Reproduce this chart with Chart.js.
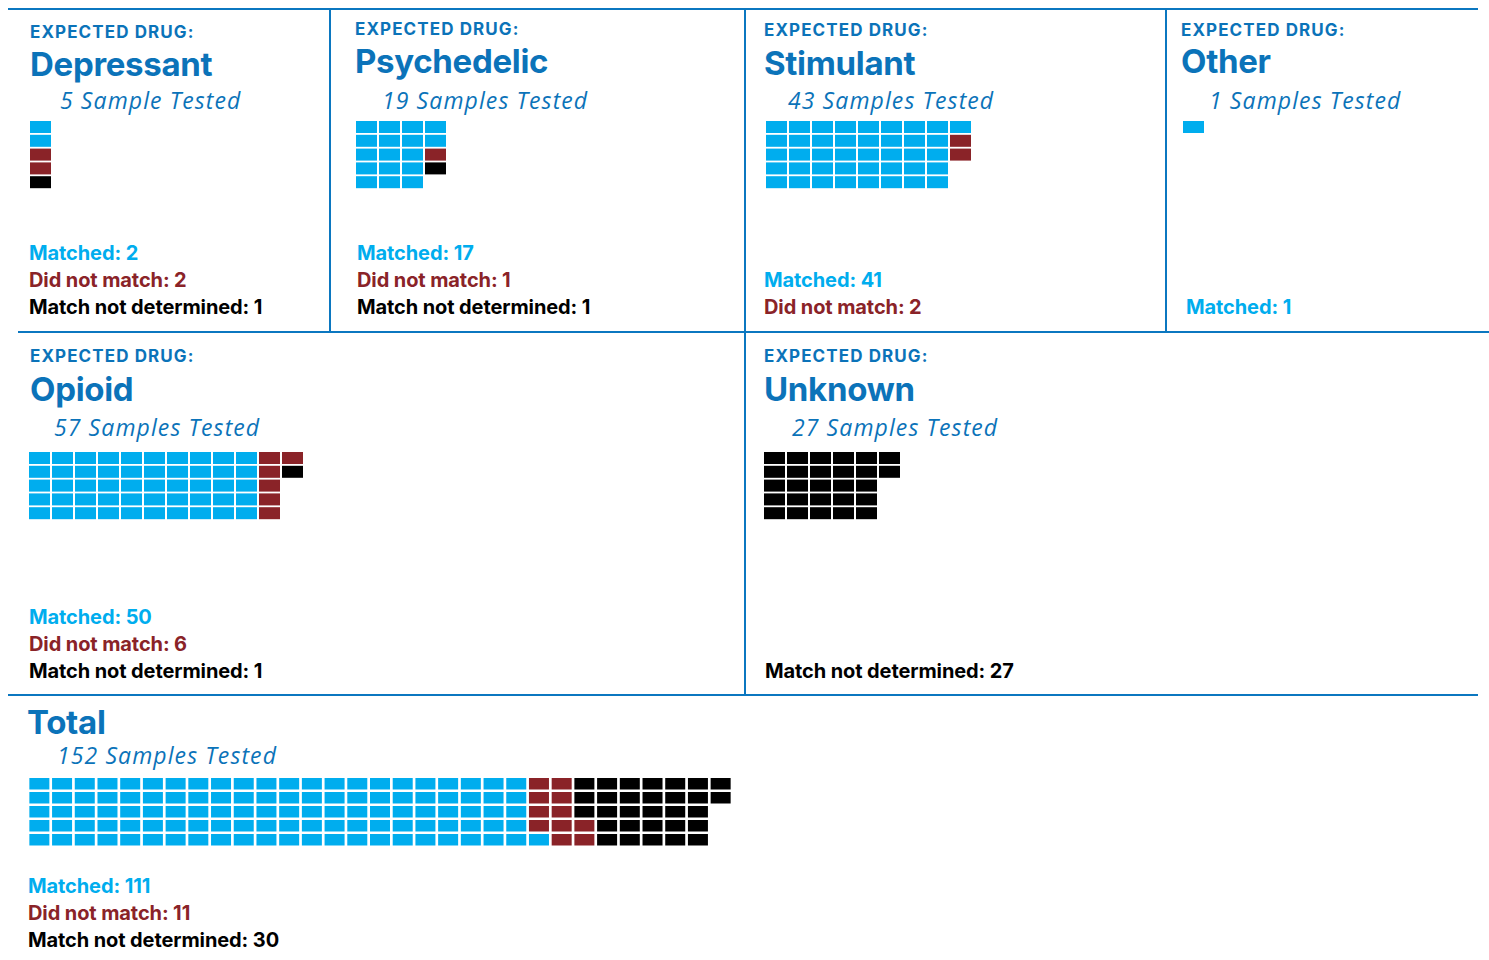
<!DOCTYPE html>
<html>
<head>
<meta charset="utf-8">
<script src="https://cdn.jsdelivr.net/npm/chart.js@4.4.0/dist/chart.umd.min.js"></script>
<style>
  html, body { margin: 0; padding: 0; background: #fff; }
  body { width: 1489px; height: 960px; position: relative; overflow: hidden; font-family: Inter, Roboto, sans-serif; }
  .t { position: absolute; white-space: nowrap; line-height: 1; }
  .ln { position: absolute; background: #0b77c0; }
  canvas { position: absolute; }
</style>
</head>
<body>
<script>
// data
const panels = ['Depressant', 'Psychedelic', 'Stimulant', 'Other', 'Opioid', 'Unknown', 'Total'];
const samples = [5, 19, 43, 1, 57, 27, 152];
const sampleWord = ['Sample', 'Samples', 'Samples', 'Samples', 'Samples', 'Samples', 'Samples'];
const matched = [2, 17, 41, 1, 50, 0, 111];
const notMatched = [2, 1, 2, 0, 6, 0, 11];
const notDetermined = [1, 1, 0, 0, 1, 27, 30];

const BLUE = '#0b73b9', CYAN = '#00adee', RED = '#8a2328', BLACK = '#000000';

// where each panel sits on the page
const layout = [
  {x: 30,   exp: 37,  title: 75,  subX: 60,   sub: 109, wx: 30,   wy: 121, sx: 29,   sb: 313},
  {x: 355,  exp: 34,  title: 72,  subX: 382,  sub: 109, wx: 356,  wy: 121, sx: 357,  sb: 313},
  {x: 764,  exp: 35,  title: 74,  subX: 788,  sub: 109, wx: 766,  wy: 121, sx: 764,  sb: 313},
  {x: 1181, exp: 35,  title: 72,  subX: 1209, sub: 109, wx: 1183, wy: 121, sx: 1186, sb: 313},
  {x: 30,   exp: 361, title: 400, subX: 54,   sub: 436, wx: 29,   wy: 452, sx: 29,   sb: 677},
  {x: 764,  exp: 361, title: 400, subX: 792,  sub: 436, wx: 764,  wy: 452, sx: 765,  sb: 677},
  {x: 27,   exp: null, title: 733, subX: 57,  sub: 764, wx: 29,   wy: 778, sx: 28,   sb: 946, total: true}
];

// frame lines [left, top, width, height]
const lines = [
  [8, 8, 1470, 2], [18, 331, 1471, 2], [8, 694, 1470, 2],
  [329, 8, 2, 324], [744, 8, 2, 687], [1165, 8, 2, 324]
];
lines.forEach(l => {
  const d = document.createElement('div');
  d.className = 'ln';
  d.style.left = l[0] + 'px'; d.style.top = l[1] + 'px';
  d.style.width = l[2] + 'px'; d.style.height = l[3] + 'px';
  document.body.appendChild(d);
});

// s: {size, weight, style, family, base (baseline offset as share of size), spacing}
function text(str, x, base, color, s) {
  const d = document.createElement('div');
  d.className = 't';
  d.textContent = str;
  d.style.left = x + 'px';
  d.style.top = (base - s.base * s.size) + 'px';
  d.style.fontSize = s.size + 'px';
  d.style.fontWeight = s.weight;
  d.style.fontStyle = s.style;
  d.style.fontFamily = s.family;
  d.style.color = color;
  d.style.letterSpacing = s.spacing + 'px';
  document.body.appendChild(d);
}

const expFont = {size: 17, weight: 700, style: 'normal', family: 'Inter', base: 0.76, spacing: 1.1};
const titleFont = {size: 33, weight: 700, style: 'normal', family: 'Inter', base: 0.83, spacing: -0.3};
const subFont = {size: 23, weight: 400, style: 'italic', family: '"Open Sans"', base: 0.888, spacing: 1.1};
const statFont = {size: 20, weight: 700, style: 'normal', family: 'Inter', base: 0.82, spacing: -0.1};

function waffle(i, L) {
  const seq = [];
  for (let k = 0; k < matched[i]; k++) seq.push(CYAN);
  for (let k = 0; k < notMatched[i]; k++) seq.push(RED);
  for (let k = 0; k < notDetermined[i]; k++) seq.push(BLACK);
  const n = seq.length;
  const cols = Math.ceil(n / 5);
  const grid = [0, 1, 2, 3, 4].map(() => new Array(cols).fill(null));
  for (let k = 0; k < n; k++) {
    const c = Math.floor(k / 5);
    let r = k % 5;
    const full = (c + 1) * 5 <= n;
    if (L.total && full) r = 4 - r; // total fills full columns from the bottom
    grid[r][c] = seq[k];
  }
  const px = L.total ? 22.7 : 23, py = L.total ? 14 : 13.8;
  const cw = L.total ? 20 : 21, ch = L.total ? 11.5 : 12;
  const w = Math.round(cols * px), h = Math.round(5 * py);
  const cv = document.createElement('canvas');
  cv.width = w; cv.height = h;
  cv.style.width = w + 'px'; cv.style.height = h + 'px';
  cv.style.left = (L.wx - (px - cw) / 2) + 'px';
  cv.style.top = L.wy + 'px';
  document.body.appendChild(cv);
  const hr = ch / py;
  const datasets = grid.map((row, r) => ({
    label: 'row ' + (r + 1),
    data: row.map(c => c ? [r, r + hr] : null),
    backgroundColor: row.map(c => c || 'rgba(0,0,0,0)'),
    borderWidth: 0,
    barPercentage: 1,
    categoryPercentage: cw / px
  }));
  new Chart(cv.getContext('2d'), {
    type: 'bar',
    data: { labels: grid[0].map((_, c) => String(c + 1)), datasets: datasets },
    options: {
      responsive: false,
      animation: false,
      devicePixelRatio: 1,
      layout: { padding: 0 },
      plugins: { legend: { display: false }, tooltip: { enabled: false } },
      scales: {
        x: { display: false, stacked: true },
        y: { display: false, stacked: false, min: 0, max: 5, reverse: true }
      }
    }
  });
}

panels.forEach((name, i) => {
  const L = layout[i];
  if (L.exp !== null) text('EXPECTED DRUG:', L.x, L.exp, BLUE, expFont);
  text(name, L.x, L.title, BLUE, titleFont);
  text(samples[i] + ' ' + sampleWord[i] + ' Tested', L.subX, L.sub, BLUE, subFont);
  waffle(i, L);
  const stats = [];
  if (matched[i]) stats.push(['Matched: ' + matched[i], CYAN]);
  if (notMatched[i]) stats.push(['Did not match: ' + notMatched[i], RED]);
  if (notDetermined[i]) stats.push(['Match not determined: ' + notDetermined[i], BLACK]);
  stats.forEach((s, k) => {
    text(s[0], L.sx, L.sb - (stats.length - 1 - k) * 26.6, s[1], statFont);
  });
});
</script>
</body>
</html>
